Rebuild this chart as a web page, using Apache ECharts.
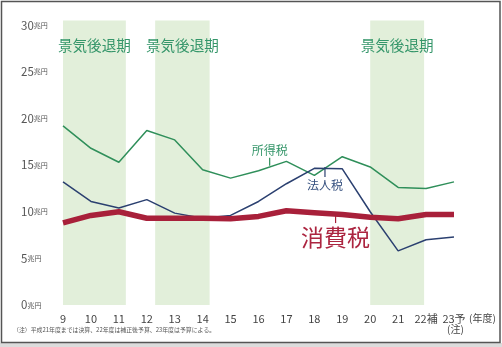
<!DOCTYPE html>
<html>
<head>
<meta charset="utf-8">
<script src="https://cdn.jsdelivr.net/npm/echarts@6/dist/echarts.min.js"></script>
<style>
  html, body { margin: 0; padding: 0; background: #fff; }
  #chart { width: 502px; height: 347px; }
</style>
</head>
<body>
<div id="chart"></div>
<script>
// 年度（平成）
const years = [9, 10, 11, 12, 13, 14, 15, 16, 17, 18, 19, 20, 21, 22, 23];
const yearLabels = ['9', '10', '11', '12', '13', '14', '15', '16', '17', '18', '19', '20', '21', '22補', '23予'];
// 税収（兆円）
const incomeTax = [19.2, 16.8, 15.3, 18.7, 17.7, 14.5, 13.6, 14.4, 15.4, 13.9, 15.9, 14.8, 12.6, 12.5, 13.2];
const corporateTax = [13.2, 11.1, 10.4, 11.3, 9.85, 9.3, 9.6, 11.1, 13.0, 14.65, 14.6, 10.0, 5.8, 7.0, 7.3];
const consumptionTax = [8.8, 9.6, 10.0, 9.3, 9.3, 9.3, 9.25, 9.5, 10.1, 9.9, 9.7, 9.4, 9.25, 9.7, 9.7];
// 景気後退期（年度）
const recessionFrom = [9, 12.3, 20];
const recessionTo = [11.25, 14.25, 21.93];
const yTicks = [0, 5, 10, 15, 20, 25, 30];

const FONT = '"Noto Sans CJK JP", "Noto Sans", sans-serif';
const pairs = (vals) => years.map((y, i) => [y, vals[i]]);

const chart = echarts.init(document.getElementById('chart'), null, { renderer: 'canvas' });

chart.setOption({
  animation: false,
  backgroundColor: '#ffffff',
  grid: { left: 63, right: 48, top: 20.5, bottom: 42, containLabel: false },
  xAxis: {
    type: 'value', min: 9, max: 23, interval: 1,
    axisLine: { show: false }, axisTick: { show: false }, splitLine: { show: false },
    axisLabel: {
      margin: 8, fontSize: 11, color: '#444', fontFamily: FONT,
      formatter: (v) => { const i = years.indexOf(v); return i >= 0 ? yearLabels[i] : ''; }
    }
  },
  yAxis: {
    type: 'value', min: 0, max: 30.5, interval: 5,
    axisLine: { show: false }, axisTick: { show: false }, splitLine: { show: false },
    axisLabel: {
      margin: 42, align: 'left', color: '#555', fontFamily: FONT,
      formatter: (v) => yTicks.includes(v) ? '{n|' + v + '}{u|兆円}' : '',
      rich: {
        n: { fontSize: 11.5, color: '#555', fontFamily: FONT },
        u: { fontSize: 7, color: '#555', fontFamily: FONT }
      }
    }
  },
  series: [
    {
      name: '景気後退期', type: 'line', data: [], silent: true, z: 1,
      markArea: {
        silent: true,
        itemStyle: { color: '#e2efda' },
        label: {
          show: true, position: 'insideTop', distance: 18,
          color: '#35966a', fontSize: 14.6, fontFamily: FONT
        },
        data: recessionFrom.map((f, i) => [
          { name: '景気後退期', coord: [f, 0] },
          { coord: [recessionTo[i], 30.5] }
        ])
      }
    },
    {
      name: '所得税', type: 'line', data: pairs(incomeTax), z: 3,
      symbol: 'none', lineStyle: { color: '#2f8f5a', width: 1.5 },
      markPoint: {
        silent: true, symbol: 'rect', symbolSize: [1.2, 8],
        itemStyle: { color: '#2f8f5a' },
        label: { show: true, position: 'top', distance: 1, formatter: '所得税', color: '#35966a', fontSize: 12, fontFamily: FONT },
        data: [{ coord: [16.4, 15.35] }]
      }
    },
    {
      name: '法人税', type: 'line', data: pairs(corporateTax), z: 4,
      symbol: 'none', lineStyle: { color: '#2b4070', width: 1.5 },
      markPoint: {
        silent: true, symbol: 'rect', symbolSize: [1.2, 10],
        itemStyle: { color: '#2b4070' },
        label: { show: true, position: 'bottom', distance: 2, formatter: '法人税', color: '#35507f', fontSize: 12, fontFamily: FONT },
        data: [{ coord: [18.38, 14.25] }]
      }
    },
    {
      name: '消費税', type: 'line', data: pairs(consumptionTax), z: 5,
      symbol: 'none', lineStyle: { color: '#a8203a', width: 5.5 },
      markPoint: {
        silent: true, symbol: 'rect', symbolSize: [1.2, 10],
        itemStyle: { color: '#a8203a' },
        label: { show: true, position: 'bottom', distance: 3, formatter: '消費税', color: '#ac2540', fontSize: 23, fontFamily: FONT },
        data: [{ coord: [18.76, 9.32] }]
      }
    }
  ],
  graphic: [
    { type: 'rect', z: 0, silent: true, shape: { x: 0, y: 343, width: 502, height: 4 }, style: { fill: '#dcdcdc' } },
    { type: 'rect', z: 100, silent: true, shape: { x: 1.5, y: 1.5, width: 498.5, height: 341 }, style: { fill: 'none', stroke: '#555', lineWidth: 1.5 } },
    { type: 'text', z: 100, left: 469, top: 313, style: { text: '(年度)', fontSize: 10, fill: '#444', fontFamily: FONT } },
    { type: 'text', z: 100, left: 447, top: 324, style: { text: '(注)', fontSize: 10, fill: '#444', fontFamily: FONT } },
    { type: 'text', z: 100, left: 13, top: 327, style: { text: '（注）平成21年度までは決算、22年度は補正後予算、23年度は予算による。', fontSize: 5.9, fill: '#555', fontFamily: FONT } }
  ]
});
</script>
</body>
</html>
